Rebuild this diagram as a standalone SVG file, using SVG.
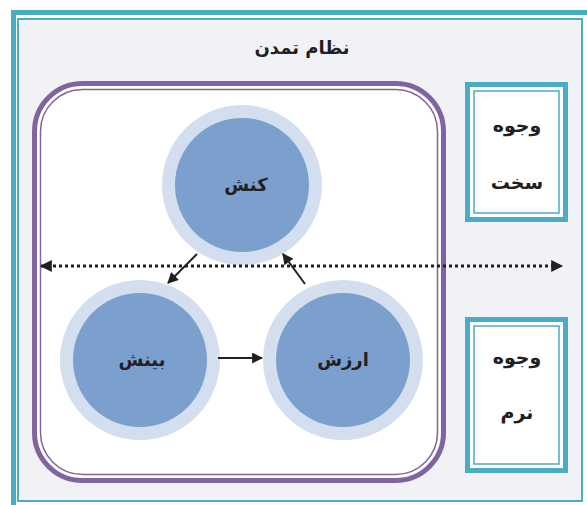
<svg xmlns="http://www.w3.org/2000/svg" width="587" height="505" viewBox="0 0 587 505">
<defs>
<style>
.t{font-family:"DejaVu Sans",sans-serif;font-weight:bold;fill:#231f20;text-anchor:middle;dominant-baseline:central}
.cy{stroke:#4bacc6}
.pu{stroke:#8064a2}
.ring{fill:#d3dfee}
.core{fill:#7ba0cd}
.arr{stroke:#231f20;stroke-width:2;fill:none}
</style>
<marker id="ah2" viewBox="0 0 10 10" refX="9" refY="5" markerWidth="13" markerHeight="12" markerUnits="userSpaceOnUse" orient="auto-start-reverse">
<path d="M0,0 L10,5 L0,10 z" fill="#231f20"/>
</marker>
<marker id="ah3" viewBox="0 0 10 10" refX="9" refY="5" markerWidth="12" markerHeight="11" markerUnits="userSpaceOnUse" orient="auto">
<path d="M0,0 L10,5 L0,10 z" fill="#231f20"/>
</marker>
</defs>
<rect width="587" height="505" fill="#ffffff"/>
<g id="frame">
<rect x="13.5" y="12.5" width="580" height="500" fill="none" class="cy" stroke-width="5"/>
<rect x="18" y="19" width="564" height="482" fill="#f0f2f5" class="cy" stroke-width="2"/>
<text class="t" x="302" y="47" font-size="18">نظام تمدن</text>
</g>
<g id="container">
<rect x="34.5" y="83.5" width="409" height="397" rx="48" fill="#ffffff" class="pu" stroke-width="5"/>
<rect x="40.5" y="89.5" width="397" height="385" rx="42" fill="none" class="pu" stroke-width="1.5"/>
</g>
<g id="node-konesh">
<circle cx="242" cy="185" r="80" class="ring"/>
<circle cx="242" cy="185" r="67" class="core"/>
<text class="t" x="246" y="184" font-size="18">کنش</text>
</g>
<g id="node-binesh">
<circle cx="140" cy="360" r="80" class="ring"/>
<circle cx="140" cy="360" r="67" class="core"/>
<text class="t" x="142" y="359" font-size="18">بینش</text>
</g>
<g id="node-arzesh">
<circle cx="343" cy="360" r="80" class="ring"/>
<circle cx="343" cy="360" r="67" class="core"/>
<text class="t" x="343" y="359" font-size="18">ارزش</text>
</g>
<g id="node-sakht">
<rect x="467.5" y="84.5" width="98" height="135" fill="#ffffff" class="cy" stroke-width="5"/>
<rect x="474" y="91" width="85" height="122" fill="none" class="cy" stroke-width="1.5"/>
<text class="t" x="517" y="125" font-size="19">وجوه</text>
<text class="t" x="517" y="182" font-size="19">سخت</text>
</g>
<g id="node-narm">
<rect x="467.5" y="319.5" width="98" height="151" fill="#ffffff" class="cy" stroke-width="5"/>
<rect x="474" y="326" width="85" height="138" fill="none" class="cy" stroke-width="1.5"/>
<text class="t" x="517" y="357" font-size="19">وجوه</text>
<text class="t" x="517" y="412" font-size="19">نرم</text>
</g>
<g id="connectors">
<line x1="197" y1="254" x2="168" y2="283" class="arr" marker-end="url(#ah3)"/>
<line x1="305" y1="284" x2="283" y2="254" class="arr" marker-end="url(#ah3)"/>
<line x1="218" y1="358" x2="262" y2="358" class="arr" marker-end="url(#ah3)"/>
<line x1="41" y1="266" x2="562" y2="266" stroke="#231f20" stroke-width="3" stroke-dasharray="3 3" marker-start="url(#ah2)" marker-end="url(#ah2)"/>
</g>
</svg>
